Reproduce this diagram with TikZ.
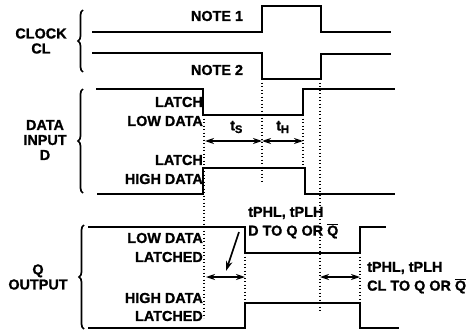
\documentclass[tikz,border=0pt]{standalone}
\usepackage{fontspec}
\setmainfont[BoldFeatures={FakeBold=1.2}]{Liberation Sans}
\usetikzlibrary{arrows.meta,decorations.pathreplacing}

\begin{document}
\begin{tikzpicture}[x=1pt,y=-1pt,
  wave/.style={line width=2pt,line join=miter},
  guide/.style={line width=1.4pt,dash pattern=on 1.4pt off 2.1pt},
  timing/.style={line width=1.3pt,{Stealth[length=9pt,width=6pt,inset=3pt]}-{Stealth[length=9pt,width=6pt,inset=3pt]}},
  curly/.style={line width=1.7pt,decorate,decoration={brace,amplitude=5pt,raise=0pt}},
  label/.style={font=\fontsize{14.4}{15}\selectfont\bfseries,inner sep=0,align=center},
  rlabel/.style={label,align=right,anchor=east},
  llabel/.style={label,align=left,anchor=west}]
\useasboundingbox (0,0) rectangle (473,332);

% Nodes
\node[label] (note1) at (217,16) {NOTE 1};
\node[label] (note2) at (217,70) {NOTE 2};
\node[label] (clock) at (41,41) {CLOCK\\CL};
\node[label] (data) at (45,140) {DATA\\INPUT\\D};
\node[label] (output) at (38,277) {Q\\OUTPUT};
\node[rlabel] (latch1) at (203,102) {LATCH};
\node[rlabel] (lowdata) at (203,121) {LOW DATA};
\node[rlabel] (latch2) at (203,160) {LATCH};
\node[rlabel] (highdata) at (203,179) {HIGH DATA};
\node[rlabel] (lowq) at (203,238) {LOW DATA};
\node[rlabel] (lowqb) at (203,257) {LATCHED};
\node[rlabel] (highq) at (203,298) {HIGH DATA};
\node[rlabel] (highqb) at (203,316) {LATCHED};
\node[llabel] (ts) at (230,127) {t$_{\mbox{\fontsize{11}{11}\selectfont\bfseries S}}$};
\node[llabel] (th) at (276,127) {t$_{\mbox{\fontsize{11}{11}\selectfont\bfseries H}}$};
\node[llabel] (dq1) at (248,213) {tPHL, tPLH};
\node[llabel] (dq2) at (248,231) {D TO Q OR $\overline{\mbox{Q}}$};
\node[llabel] (cq1) at (367,268) {tPHL, tPLH};
\node[llabel] (cq2) at (367,286) {CL TO Q OR $\overline{\mbox{Q}}$};

% Corners
\coordinate (c1) at (92,32);
\coordinate (c2) at (262,6);
\coordinate (c3) at (321,32);
\coordinate (c4) at (391,32);
\coordinate (c5) at (92,53);
\coordinate (c6) at (262,79);
\coordinate (c7) at (321,54);
\coordinate (c8) at (391,54);
\coordinate (d1) at (96,89);
\coordinate (d2) at (203,115);
\coordinate (d3) at (303,89);
\coordinate (d4) at (395,89);
\coordinate (d5) at (97,194);
\coordinate (d6) at (203,168);
\coordinate (d7) at (305,194);
\coordinate (d8) at (395,194);
\coordinate (q1) at (88,227);
\coordinate (q2) at (245,253);
\coordinate (q3) at (360,227);
\coordinate (q4) at (386,227);
\coordinate (q5) at (88,328);
\coordinate (q6) at (245,303);
\coordinate (q7) at (360,328);
\coordinate (q8) at (399,328);

%waves
\draw[wave] (c1) -| (c2) -| (c3) |- (c4);
\draw[wave] (c5) -| (c6) -| (c7) |- (c8);
\draw[wave] (d1) -| (d2) -| (d3) |- (d4);
\draw[wave] (d5) -| (d6) -| (d7) -- (d8);
\draw[wave] (q1) -| (q2) -| (q3) -- (q4);
\draw[wave] (q5) -| (q6) -| (q7) -- (q8);

%guides
\coordinate (g1) at (204,115);
\coordinate (g2) at (204,318);
\coordinate (g3) at (262,182);
\coordinate (g4) at (320,79);
\coordinate (g5) at (320,313);
\coordinate (g6) at (303,115);
\coordinate (g7) at (303,168);
\coordinate (g8) at (245,253);
\coordinate (g9) at (245,303);
\coordinate (g10) at (360,253);
\coordinate (g11) at (360,303);
\path (g1) edge[guide] (g2);
\path (c6) edge[guide] (g3);
\path (g4) edge[guide] (g5);
\path (g6) edge[guide] (g7);
\path (g8) edge[guide] (g9);
\path (g10) edge[guide] (g11);

%arrows
\coordinate (a1) at (205,141);
\coordinate (a2) at (262,141);
\coordinate (a3) at (303,141);
\coordinate (a4) at (206,277);
\coordinate (a5) at (245,277);
\coordinate (a6) at (320,277);
\coordinate (a7) at (360,277);
\coordinate (a8) at (239,232);
\coordinate (a9) at (226,271);
\path (a1) edge[timing] (a2);
\path (a2) edge[timing] (a3);
\path (a4) edge[timing] (a5);
\path (a6) edge[timing] (a7);
\path (a8) edge[line width=1.6pt,-{Stealth[length=10pt,width=6.5pt,inset=3pt]}] (a9);

%braces
\coordinate (b1) at (83,72);
\coordinate (b2) at (83,10);
\coordinate (b3) at (83,193);
\coordinate (b4) at (83,89);
\coordinate (b5) at (84,329);
\coordinate (b6) at (84,225);
\draw[curly] (b1) -- (b2);
\draw[curly] (b3) -- (b4);
\draw[curly] (b5) -- (b6);

\end{tikzpicture}
\end{document}
